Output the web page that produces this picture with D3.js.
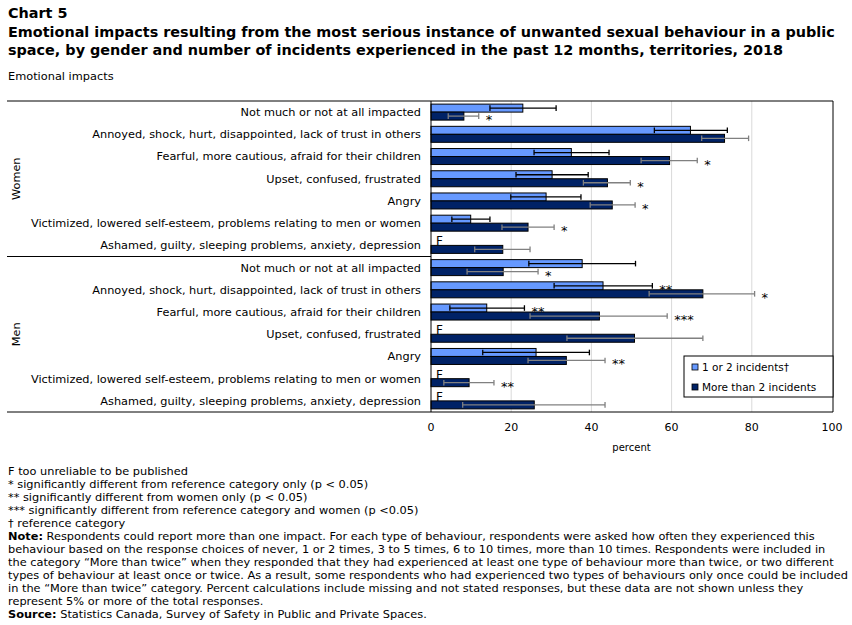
<!DOCTYPE html>
<html>
<head>
<meta charset="utf-8">
<script src="https://cdn.jsdelivr.net/npm/d3@7"></script>
<style>
  body { margin: 0; background: #fff; }
  svg { display: block; }
  .lbl { font-family: "DejaVu Sans", Verdana, sans-serif; font-size: 10px; fill: #000; }
  .cat { font-family: "DejaVu Sans", Verdana, sans-serif; font-size: 11.3px; fill: #000; }
  .note { font-family: "DejaVu Sans", Verdana, sans-serif; font-size: 11.35px; fill: #000; }
  .title { font-family: "DejaVu Sans", Verdana, sans-serif; font-size: 14.4px; font-weight: bold; fill: #000; }
</style>
</head>
<body>
<div id="chart"></div>
<script>
// categories (same list for both genders)
const categories = [
  "Not much or not at all impacted",
  "Annoyed, shock, hurt, disappointed, lack of trust in others",
  "Fearful, more cautious, afraid for their children",
  "Upset, confused, frustrated",
  "Angry",
  "Victimized, lowered self-esteem, problems relating to men or women",
  "Ashamed, guilty, sleeping problems, anxiety, depression"
];
const groups = ["Women", "Men"];
const seriesNames = ["1 or 2 incidents\u2020", "More than 2 incidents"];

// values, null = F (too unreliable)
const women1 = [22.9, 64.7, 35.0, 30.2, 28.7, 9.9, null];
const women1Low = [14.7, 55.7, 25.7, 21.2, 19.9, 5.2, null];
const women1High = [31.2, 73.9, 44.4, 39.2, 37.4, 14.7, null];
const women2 = [8.2, 73.2, 59.5, 44.0, 45.2, 24.2, 17.9];
const women2Low = [4.3, 67.5, 52.4, 38.0, 39.7, 17.7, 10.9];
const women2High = [11.9, 79.2, 66.4, 49.7, 50.9, 30.7, 24.7];
const men1 = [37.7, 42.9, 13.9, null, 26.2, null, null];
const men1Low = [24.4, 30.7, 4.7, null, 12.9, null, null];
const men1High = [51.0, 55.2, 23.3, null, 39.5, null, null];
const men2 = [18.0, 67.8, 42.0, 50.75, 33.75, 9.5, 25.75];
const men2Low = [9.0, 54.4, 24.7, 33.9, 24.2, 3.2, 7.9];
const men2High = [26.7, 80.7, 58.9, 67.8, 43.4, 15.7, 43.4];

// significance marks
const women1Sig = ["", "", "", "", "", "", ""];
const women2Sig = ["*", "", "*", "*", "*", "*", ""];
const men1Sig = ["", "**", "**", "", "", "", ""];
const men2Sig = ["*", "*", "***", "", "**", "**", ""];

const xTicks = [0, 20, 40, 60, 80, 100];

const footnotes = [
  [["", "F too unreliable to be published"]],
  [["", "* significantly different from reference category only (p < 0.05)"]],
  [["", "** significantly different from women only (p < 0.05)"]],
  [["", "*** significantly different from reference category and women (p <0.05)"]],
  [["", "\u2020 reference category"]],
  [["Note:", " Respondents could report more than one impact. For each type of behaviour, respondents were asked how often they experienced this"]],
  [["", "behaviour based on the response choices of never, 1 or 2 times, 3 to 5 times, 6 to 10 times, more than 10 times. Respondents were included in"]],
  [["", "the category \u201cMore than twice\u201d when they responded that they had experienced at least one type of behaviour more than twice, or two different"]],
  [["", "types of behaviour at least once or twice. As a result, some respondents who had experienced two types of behaviours only once could be included"]],
  [["", "in the \u201cMore than twice\u201d category. Percent calculations include missing and not stated responses, but these data are not shown unless they"]],
  [["", "represent 5% or more of the total responses."]],
  [["Source:", " Statistics Canada, Survey of Safety in Public and Private Spaces."]]
];

const colors = ["#6699ff", "#002266"];

// build rows
let rows = [];
const byGroup = {
  Women: [[women1, women1Low, women1High, women1Sig], [women2, women2Low, women2High, women2Sig]],
  Men: [[men1, men1Low, men1High, men1Sig], [men2, men2Low, men2High, men2Sig]]
};
groups.forEach(g => {
  categories.forEach((c, i) => {
    rows.push({
      key: g + "|" + i, group: g, cat: c,
      vals: byGroup[g].map(s => ({v: s[0][i], lo: s[1][i], hi: s[2][i], sig: s[3][i]}))
    });
  });
});

const width = 852, height = 625;
const svg = d3.select("#chart").append("svg")
  .attr("width", width).attr("height", height);
svg.append("rect").attr("width", width).attr("height", height).attr("fill", "#fff");

const plotLeft = 431, plotRight = 832, plotTop = 101, plotBottom = 412;
const frameLeft = 7, frameRight = 833;

const x = d3.scaleLinear().domain([0, 100]).range([plotLeft, plotRight]);
const y = d3.scaleBand().domain(rows.map(r => r.key))
  .range([plotTop, plotBottom]).paddingInner(0.28).paddingOuter(0.14);
const ySub = d3.scaleBand().domain([0, 1]).range([0, y.bandwidth()]);

// titles
svg.append("text").attr("class", "title").attr("x", 8).attr("y", 18).text("Chart 5");
svg.append("text").attr("class", "title").attr("x", 8).attr("y", 37)
  .text("Emotional impacts resulting from the most serious instance of unwanted sexual behaviour in a public");
svg.append("text").attr("class", "title").attr("x", 8).attr("y", 55)
  .text("space, by gender and number of incidents experienced in the past 12 months, territories, 2018");
svg.append("text").attr("class", "note").attr("x", 8).attr("y", 80).text("Emotional impacts");

// gridlines
svg.append("g").selectAll("line")
  .data(xTicks.filter(t => t > 0 && t < 100))
  .join("line")
  .attr("x1", d => x(d)).attr("x2", d => x(d))
  .attr("y1", plotTop).attr("y2", plotBottom)
  .attr("stroke", "#d9d9d9").attr("stroke-width", 1);

// bars
const rowG = svg.append("g").selectAll("g")
  .data(rows).join("g")
  .attr("transform", d => "translate(0," + y(d.key) + ")");

rowG.each(function(r) {
  let g = d3.select(this);
  r.vals.forEach((s, si) => {
    let yy = ySub(si), h = ySub.bandwidth(), mid = yy + h / 2;
    if (s.v == null) {
      g.append("text").attr("class", "lbl")
        .attr("x", x(0) + 5).attr("y", mid + 4)
        .style("font-size", "12px")
        .text("F");
      return;
    }
    g.append("rect")
      .attr("x", x(0)).attr("y", yy)
      .attr("width", x(s.v) - x(0)).attr("height", h)
      .attr("fill", colors[si]).attr("stroke", "#000").attr("stroke-width", 1);
    let ec = si == 0 ? "#000" : "#808080";
    g.append("line").attr("x1", x(s.lo)).attr("x2", x(s.hi))
      .attr("y1", mid).attr("y2", mid).attr("stroke", ec).attr("stroke-width", 1.3);
    [s.lo, s.hi].forEach(e => {
      g.append("line").attr("x1", x(e)).attr("x2", x(e))
        .attr("y1", mid - 2.8).attr("y2", mid + 2.8)
        .attr("stroke", ec).attr("stroke-width", 1.3);
    });
    if (s.sig) {
      g.append("text").attr("class", "lbl")
        .attr("x", x(s.hi) + 7).attr("y", mid + 8)
        .style("font-size", "13px")
        .text(s.sig);
    }
  });
});

// category labels
svg.append("g").selectAll("text")
  .data(rows).join("text")
  .attr("class", "cat")
  .attr("x", plotLeft - 10)
  .attr("y", d => y(d.key) + y.bandwidth() / 2)
  .attr("dy", "0.35em")
  .attr("text-anchor", "end")
  .text(d => d.cat);

// group labels
groups.forEach(gname => {
  let keys = rows.filter(r => r.group == gname).map(r => r.key);
  let top = y(keys[0]) - y.step() * 0.14;
  let bot = y(keys[keys.length - 1]) + y.bandwidth() + y.step() * 0.14;
  svg.append("text").attr("class", "cat")
    .attr("transform", "translate(20," + ((top + bot) / 2) + ") rotate(-90)")
    .attr("text-anchor", "middle")
    .text(gname);
});

// frame lines
const divY = (y(rows[6].key) + y.bandwidth() + y(rows[7].key)) / 2;
svg.append("line").attr("x1", frameLeft).attr("x2", frameRight)
  .attr("y1", plotTop).attr("y2", plotTop).attr("stroke", "#000");
svg.append("line").attr("x1", frameLeft).attr("x2", frameRight)
  .attr("y1", plotBottom).attr("y2", plotBottom).attr("stroke", "#000");
svg.append("line").attr("x1", frameLeft).attr("x2", plotLeft)
  .attr("y1", divY).attr("y2", divY).attr("stroke", "#000");
svg.append("line").attr("x1", frameRight).attr("x2", frameRight)
  .attr("y1", plotTop).attr("y2", plotBottom).attr("stroke", "#000");
svg.append("line").attr("x1", plotLeft).attr("x2", plotLeft)
  .attr("y1", plotTop).attr("y2", plotBottom).attr("stroke", "#000");

// x axis labels
svg.append("g").selectAll("text")
  .data(xTicks).join("text")
  .attr("class", "lbl")
  .attr("x", d => x(d)).attr("y", plotBottom + 19)
  .attr("text-anchor", "middle")
  .style("font-size", "11px")
  .text(d => d);
svg.append("text").attr("class", "lbl")
  .attr("x", (plotLeft + plotRight) / 2).attr("y", plotBottom + 39)
  .attr("text-anchor", "middle")
  .text("percent");

// legend
const leg = svg.append("g").attr("transform", "translate(684,356)");
leg.append("rect").attr("width", 149).attr("height", 41)
  .attr("fill", "#fff").attr("stroke", "#000");
seriesNames.forEach((n, i) => {
  leg.append("rect").attr("x", 8).attr("y", 8 + i * 20).attr("width", 6).attr("height", 6)
    .attr("fill", colors[i]).attr("stroke", "#000").attr("stroke-width", 0.8);
  leg.append("text").attr("class", "lbl").attr("x", 18).attr("y", 15 + i * 20)
    .style("font-size", "10.5px")
    .text(n);
});

// footnotes
const fn = svg.append("g");
footnotes.forEach((line, i) => {
  let t = fn.append("text").attr("class", "note").attr("x", 8).attr("y", 475 + i * 13);
  line.forEach(part => {
    t.append("tspan").style("font-weight", part[0] ? "bold" : "normal").text(part[0]);
    t.append("tspan").text(part[1]);
  });
});
</script>
</body>
</html>
